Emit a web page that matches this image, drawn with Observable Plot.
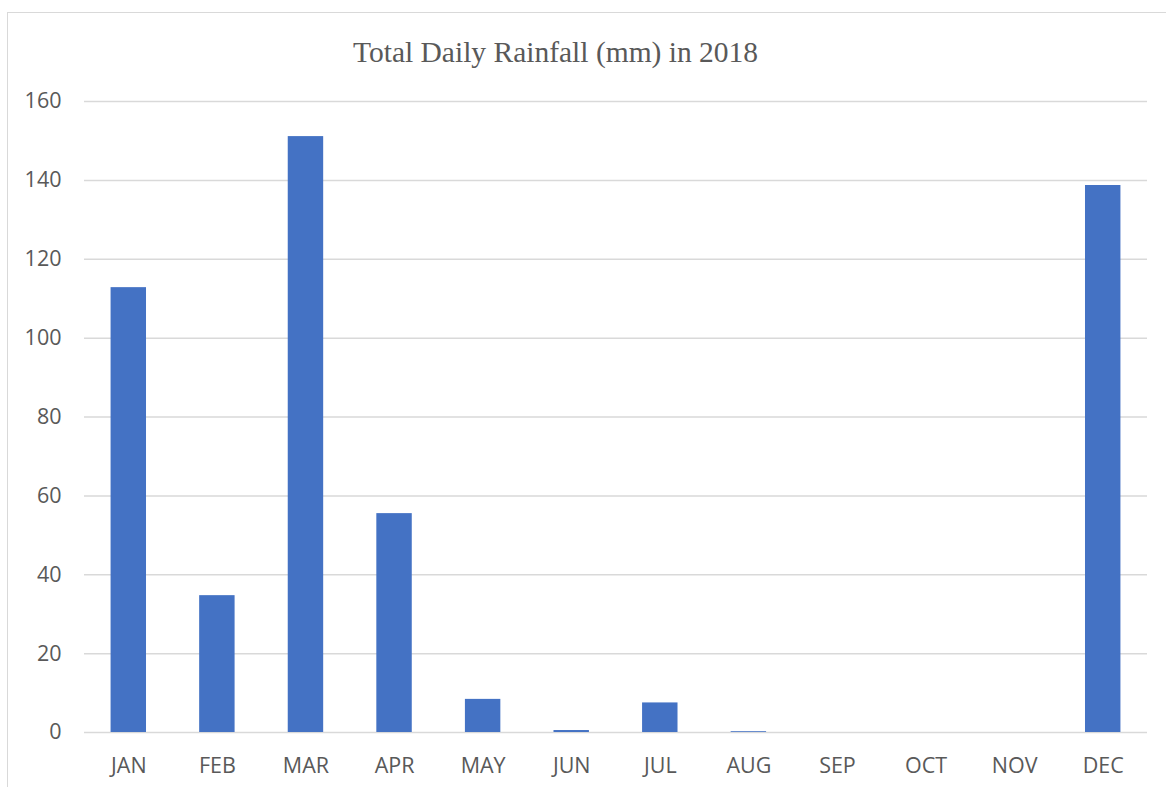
<!DOCTYPE html>
<html>
<head>
<meta charset="utf-8">
<script src="https://cdn.jsdelivr.net/npm/d3@7"></script>
<script src="https://cdn.jsdelivr.net/npm/@observablehq/plot@0.6"></script>
<style>
  html, body { margin: 0; padding: 0; background: #fff; }
  #wrap { position: relative; width: 1166px; height: 787px; overflow: hidden; }
  #frame { position: absolute; left: 7px; top: 12px; width: 1170px; height: 800px;
           border: 1.5px solid #d9d9d9; box-sizing: border-box; }
  #title { position: absolute; left: 353px; top: 0; height: 72px; line-height: 1;
           font-family: "Liberation Serif", "Times New Roman", serif; font-size: 29.5px;
           color: #595959; white-space: nowrap; padding-top: 38px; box-sizing: border-box; }
  #chart { position: absolute; left: 0; top: 0; }
</style>
</head>
<body>
<div id="wrap">
  <div id="frame"></div>
  <div id="chart"></div>
  <div id="title">Total Daily Rainfall (mm) in 2018</div>
</div>
<script>
const months = ["JAN","FEB","MAR","APR","MAY","JUN","JUL","AUG","SEP","OCT","NOV","DEC"];
const rainfall = [112.8, 34.7, 151.1, 55.5, 8.4, 0.5, 7.5, 0.2, 0, 0, 0, 138.7];
const yTicks = [0, 20, 40, 60, 80, 100, 120, 140, 160];

const data = months.map((m, i) => ({month: m, value: rainfall[i]}));

const chart = Plot.plot({
  width: 1166,
  height: 787,
  marginTop: 101,
  marginBottom: 55,
  marginLeft: 84,
  marginRight: 19,
  style: {fontFamily: "'Open Sans', sans-serif", fontSize: "21px", color: "#595959", background: "transparent"},
  x: {domain: months, paddingInner: 0.6, paddingOuter: 0.3, round: false, label: null, tickSize: 0, tickPadding: 25},
  y: {domain: [0, 160], ticks: yTicks, label: null, tickSize: 0, tickPadding: 23},
  marks: [
    Plot.gridY(yTicks, {stroke: "#d9d9d9", strokeOpacity: 1, strokeWidth: 1.5}),
    Plot.barY(data, {x: "month", y: "value", fill: "#4472C4"}),
    Plot.axisX({tickSize: 0, tickPadding: 25, fill: "#595959", fontSize: 21.5}),
    Plot.axisY(yTicks, {tickSize: 0, tickPadding: 23, fill: "#595959", fontSize: 21.5})
  ]
});
document.getElementById("chart").appendChild(chart);
</script>
</body>
</html>
